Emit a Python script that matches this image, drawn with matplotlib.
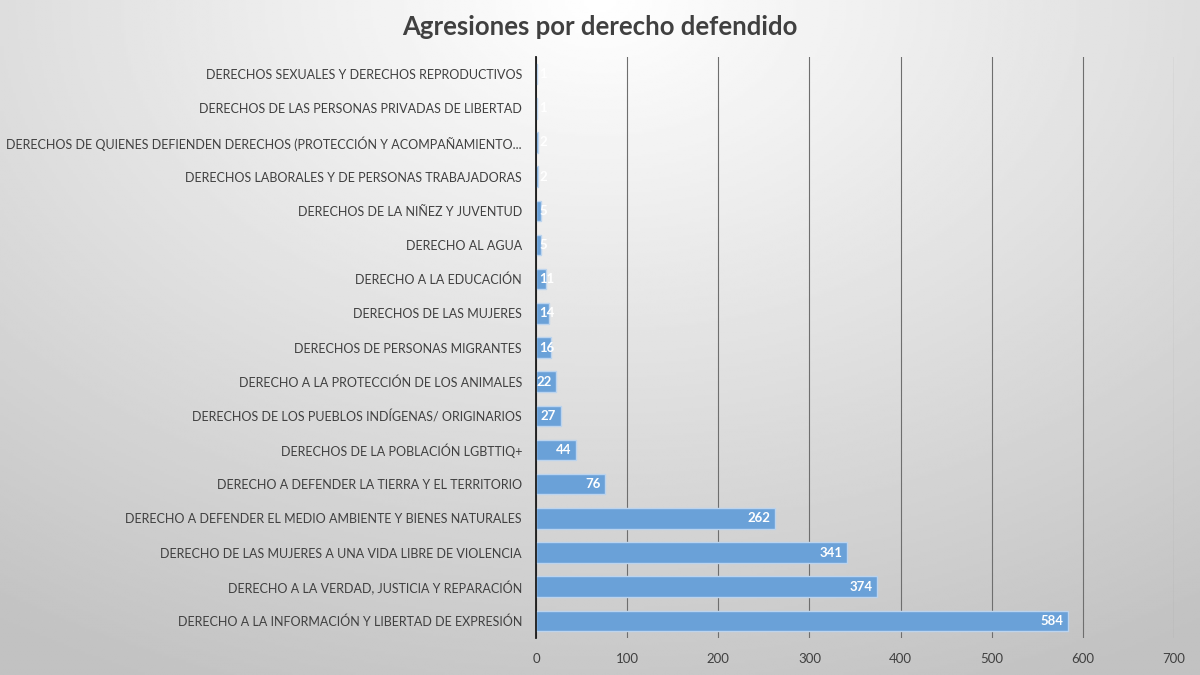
import numpy as np
import matplotlib
matplotlib.use('Agg')
import matplotlib.pyplot as plt

# datos (de arriba hacia abajo)
categorias = [
    "DERECHOS SEXUALES Y DERECHOS REPRODUCTIVOS",
    "DERECHOS DE LAS PERSONAS PRIVADAS DE LIBERTAD",
    "DERECHOS DE QUIENES DEFIENDEN DERECHOS (PROTECCIÓN Y ACOMPAÑAMIENTO...",
    "DERECHOS LABORALES Y DE PERSONAS TRABAJADORAS",
    "DERECHOS DE LA NIÑEZ Y JUVENTUD",
    "DERECHO AL AGUA",
    "DERECHO A LA EDUCACIÓN",
    "DERECHOS DE LAS MUJERES",
    "DERECHOS DE PERSONAS MIGRANTES",
    "DERECHO A LA PROTECCIÓN DE LOS ANIMALES",
    "DERECHOS DE LOS PUEBLOS INDÍGENAS/ ORIGINARIOS",
    "DERECHOS DE LA POBLACIÓN LGBTTIQ+",
    "DERECHO A DEFENDER LA TIERRA Y EL TERRITORIO",
    "DERECHO A DEFENDER EL MEDIO AMBIENTE Y BIENES NATURALES",
    "DERECHO DE LAS MUJERES A UNA VIDA LIBRE DE VIOLENCIA",
    "DERECHO A LA VERDAD, JUSTICIA Y REPARACIÓN",
    "DERECHO A LA INFORMACIÓN Y LIBERTAD DE EXPRESIÓN",
]
valores = [1, 1, 2, 2, 5, 5, 11, 14, 16, 22, 27, 44, 76, 262, 341, 374, 584]
ticks_x = [0, 100, 200, 300, 400, 500, 600, 700]

plt.rcParams['font.family'] = ['Lato', 'DejaVu Sans']
texto = '#404040'

fig = plt.figure(figsize=(12, 6.75), dpi=100)

# fondo con degradado gris
bg = fig.add_axes([0, 0, 1, 1])
yy, xx = np.mgrid[0:1:300j, 0:1:500j]
r = np.sqrt(((xx - 0.5) * 1.1) ** 2 + (yy * 0.9) ** 2)
img = 1.0 - 0.24 * np.clip(r, 0, 1)
bg.imshow(img, cmap='gray', vmin=0, vmax=1, aspect='auto', extent=[0, 1, 1, 0])
bg.set_axis_off()

ax = fig.add_axes([536 / 1200, 1 - 638 / 675, (1174 - 536) / 1200, (638 - 57) / 675])
ax.patch.set_alpha(0)
y = np.arange(len(categorias))
ax.barh(y, valores, height=0.6, color='#6aa1d8', edgecolor='#bcd4ee', linewidth=1, zorder=3)
ax.set_ylim(len(categorias) - 0.5, -0.5)
ax.set_xlim(0, 700)
ax.set_xticks(ticks_x)
ax.set_yticks(y)
ax.set_yticklabels(categorias, fontsize=9.0, color=texto)
ax.tick_params(axis='x', labelsize=9.5, labelcolor=texto, length=0, pad=11)
ax.tick_params(axis='y', length=0, pad=10)
ax.grid(axis='x', color='#6e6e6e', linewidth=0.8, zorder=0)
for s in ['top', 'right', 'bottom']:
    ax.spines[s].set_visible(False)
ax.spines['left'].set_color('#1a1a1a')
ax.spines['left'].set_linewidth(1.3)
ax.spines['left'].set_zorder(4)

# etiquetas de valor (dentro del extremo, o desde el eje si la barra es corta)
for yi, v in zip(y, valores):
    if v > 18:
        ax.text(v - 5, yi, str(v), ha='right', va='center', color='white',
                fontsize=9.5, fontweight='bold', zorder=5)
    else:
        ax.text(4, yi, str(v), ha='left', va='center', color='white',
                fontsize=9.5, fontweight='bold', zorder=5)

fig.text(0.5, 1 - 27 / 675, "Agresiones por derecho defendido", ha='center', va='center',
         fontsize=18.5, fontweight='bold', color=texto)

fig.savefig('out.png', dpi=100)
